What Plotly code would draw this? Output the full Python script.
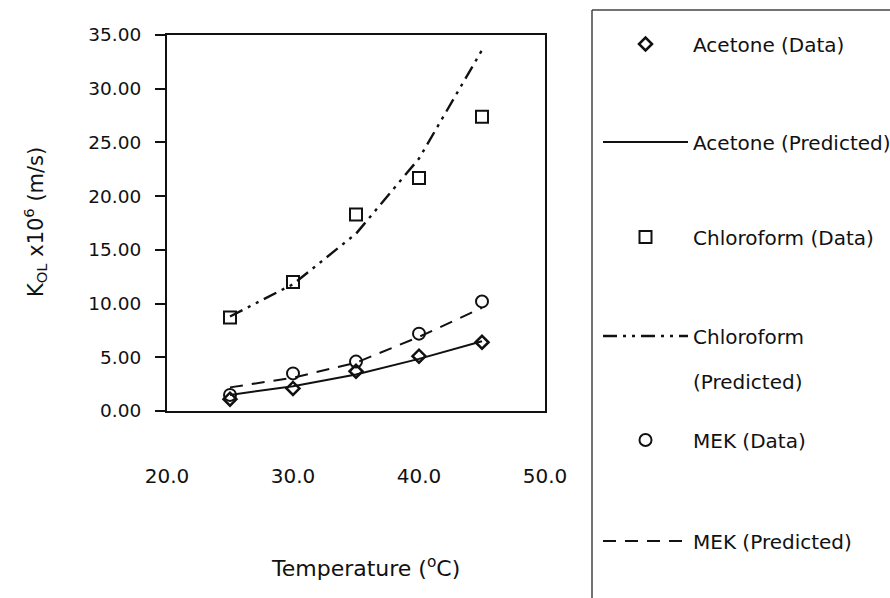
import plotly.graph_objects as go

# ---- data ----
temperature = [25, 30, 35, 40, 45]
acetone_data = [1.1, 2.1, 3.7, 5.1, 6.4]
acetone_pred = [1.5, 2.3, 3.4, 4.85, 6.5]
chloroform_data = [8.7, 12.0, 18.3, 21.7, 27.4]
chloroform_pred = [8.8, 11.8, 16.5, 23.5, 33.6]
mek_data = [1.5, 3.5, 4.6, 7.2, 10.2]
mek_pred = [2.2, 3.1, 4.5, 6.9, 9.6]

x_ticks = [20, 30, 40, 50]
y_ticks = [0, 5, 10, 15, 20, 25, 30, 35]

W, H = 890, 598
L, R, T, B = 167, 345, 35, 187
PW, PH = W - L - R, H - T - B

def px(xp):
    return (xp - L) / PW

def py(yp):
    return (H - B - yp) / PH

FONT = "DejaVu Sans"
INK = "#111111"

fig = go.Figure()

series = [
    dict(name="Acetone (Data)", y=acetone_data, mode="markers",
         marker=dict(symbol="diamond-open", size=10, color=INK, line=dict(width=2.5, color=INK)),
         legend="legend", ly=44),
    dict(name="Acetone (Predicted)", y=acetone_pred, mode="lines",
         line=dict(color=INK, width=2, dash="solid"), legend="legend2", ly=142),
    dict(name="Chloroform (Data)", y=chloroform_data, mode="markers",
         marker=dict(symbol="square-open", size=12, color=INK, line=dict(width=2, color=INK)),
         legend="legend3", ly=237),
    dict(name="Chloroform", y=chloroform_pred, mode="lines",
         line=dict(color=INK, width=2.4, dash="14px,6px,3px,6px,3px,6px"), legend="legend4", ly=336),
    dict(name="MEK (Data)", y=mek_data, mode="markers",
         marker=dict(symbol="circle-open", size=12, color=INK, line=dict(width=2, color=INK)),
         legend="legend5", ly=440),
    dict(name="MEK (Predicted)", y=mek_pred, mode="lines",
         line=dict(color=INK, width=2, dash="13px,9px"), legend="legend6", ly=541),
]

legend_x = px(598)
layout_legends = {}
for s in series:
    kw = dict(x=temperature, y=s["y"], mode=s["mode"], name=s["name"], legend=s["legend"])
    if "marker" in s:
        kw["marker"] = s["marker"]
    if "line" in s:
        kw["line"] = s["line"]
    fig.add_trace(go.Scatter(**kw))
    layout_legends[s["legend"]] = dict(
        x=legend_x, y=py(s["ly"]), xanchor="left", yanchor="middle",
        xref="paper", yref="paper",
        bgcolor="rgba(0,0,0,0)", borderwidth=0, itemwidth=85,
        font=dict(family=FONT, size=20, color=INK),
    )

fig.update_layout(**layout_legends)

fig.update_layout(
    width=W, height=H,
    margin=dict(l=L, r=R, t=T, b=B, pad=0, autoexpand=False),
    paper_bgcolor="white", plot_bgcolor="white",
    showlegend=True,
    font=dict(family=FONT, color=INK),
    xaxis=dict(
        range=[20, 50], tickvals=x_ticks, tickformat=".1f",
        showgrid=False, zeroline=False,
        showline=True, linecolor=INK, linewidth=2, mirror=True,
        ticks="", ticklabelstandoff=46,
        tickfont=dict(family=FONT, size=20, color=INK),
    ),
    yaxis=dict(
        range=[0, 35], tickvals=y_ticks, tickformat=".2f",
        showgrid=False, zeroline=False,
        showline=True, linecolor=INK, linewidth=2, mirror=True,
        ticks="outside", ticklen=10, tickwidth=1.5, tickcolor=INK,
        ticklabelstandoff=10,
        tickfont=dict(family=FONT, size=18.5, color=INK),
    ),
    annotations=[
        dict(text="Temperature (<sup>o</sup>C)", x=px(365), y=py(567),
             xref="paper", yref="paper", xanchor="center", yanchor="middle",
             showarrow=False, font=dict(family=FONT, size=22, color=INK)),
        dict(text="K<sub>OL</sub> x10<sup>6</sup> (m/s)", x=px(35), y=py(222),
             xref="paper", yref="paper", xanchor="center", yanchor="middle",
             textangle=-90, showarrow=False, font=dict(family=FONT, size=21, color=INK)),
        dict(text="(Predicted)", x=px(691), y=py(382),
             xref="paper", yref="paper", xanchor="left", yanchor="middle",
             showarrow=False, font=dict(family=FONT, size=20, color=INK)),
    ],
    shapes=[
        dict(type="line", xref="paper", yref="paper",
             x0=px(592), x1=px(592), y0=py(10), y1=py(598),
             line=dict(color="#444444", width=1.5)),
        dict(type="line", xref="paper", yref="paper",
             x0=px(592), x1=px(890), y0=py(10), y1=py(10),
             line=dict(color="#444444", width=1.5)),
    ],
)

fig.write_html("out.html")
